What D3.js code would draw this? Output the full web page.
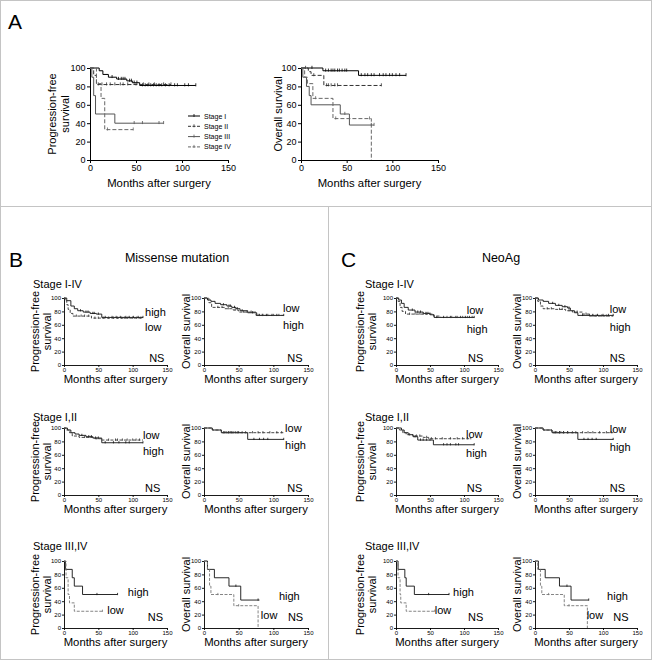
<!DOCTYPE html>
<html><head><meta charset="utf-8">
<script src="https://cdn.jsdelivr.net/npm/d3@7"></script>
<style>body{margin:0;background:#fff} text{font-family:"Liberation Sans",Arial,sans-serif;fill:#000}</style>
</head><body><svg id="c" width="652" height="660"></svg>
<script>
// ---------- tick labels ----------
const monthTicks = [0, 50, 100, 150];
const pctTicks = [0, 20, 40, 60, 80, 100];
const stageNames = ["Stage I", "Stage II", "Stage III", "Stage IV"];
const rowNames = ["Stage I-IV", "Stage I,II", "Stage III,IV"];
const groupNames = ["high", "low"];

// ---------- Panel A : PFS by stage [month, %] ----------
const A_pfs_I = [[0,100],[10,97],[14,93],[20,90],[29,88],[40,86],[46,84],[54,81],[115,81]];
const A_pfs_I_c = [24,31,34,36,38,43,45,48,51,57,60,63,66,69,72,75,78,82,86,92,95,103,107,115];
const A_pfs_II = [[0,100],[4,92],[7,82],[88,82]];
const A_pfs_II_c = [9,13,18,22,27,33,36,41,50,58,64,70,80,88];
const A_pfs_III = [[0,100],[2,90],[4,70],[6,50],[27,40],[80,40]];
const A_pfs_III_c = [48,57,75,80];
const A_pfs_IV = [[0,100],[7,83],[12,67],[16,33],[47,33]];
const A_pfs_IV_c = [19,47];
// ---------- Panel A : OS by stage ----------
const A_os_I = [[0,100],[24,97],[63,92],[115,92]];
const A_os_I_c = [12,27,30,33,35,37,40,42,45,48,50,66,70,73,77,80,86,90,93,97,100,104,108,115];
const A_os_II = [[0,100],[8,96],[11,92],[25,81],[88,81]];
const A_os_II_c = [5,14,28,30,33,37,40,88];
const A_os_III = [[0,100],[2,90],[6,80],[9,70],[11,60],[43,50],[53,38],[80,38]];
const A_os_III_c = [48,77,80];
const A_os_IV = [[0,100],[4,90],[7,83],[13,67],[35,45],[77,0]];
const A_os_IV_c = [16,38,75];

// ---------- Panel B : Missense mutation ----------
const B1_pfs_hi = [[0,100],[4,96],[10,88],[15,84],[20,81],[28,79],[38,77],[47,76],[55,71],[115,71]];
const B1_pfs_hi_c = [24,32,35,42,44,50,60,70,76,82,90,95,101,108,115];
const B1_pfs_lo = [[0,100],[2,96],[4,90],[6,83],[9,77],[13,73],[40,70],[115,70]];
const B1_pfs_lo_c = [18,25,30,36,45,50,57,65,72,78,84,88,93,100,106,112];
const B1_os_hi = [[0,100],[5,97],[10,95],[16,92],[24,90],[33,88],[40,86],[46,84],[52,81],[63,78],[76,74],[115,74]];
const B1_os_hi_c = [28,36,38,44,48,55,70,80,84,90,98,105,115];
const B1_os_lo = [[0,100],[7,93],[11,86],[30,84],[42,82],[50,79],[75,74],[115,74]];
const B1_os_lo_c = [20,26,35,45,57,62,68,78,85,92,100,108];

const B2_pfs_hi = [[0,100],[5,97],[10,93],[16,91],[22,89],[32,87],[42,85],[55,78],[115,78]];
const B2_pfs_hi_c = [26,36,40,46,50,60,72,80,90,95,115];
const B2_pfs_lo = [[0,100],[3,97],[8,93],[12,88],[22,86],[45,84],[55,82],[115,82]];
const B2_pfs_lo_c = [30,38,48,65,75,78,85,92,100,105,110];
const B2_os_hi = [[0,100],[12,97],[25,93],[63,83],[115,83]];
const B2_os_hi_c = [30,35,40,45,50,72,80,86,92,115];
const B2_os_lo = [[0,100],[12,97],[25,93],[115,93]];
const B2_os_lo_c = [28,32,36,38,42,48,55,60,70,78,85,95,105,112];

const B3_pfs_hi = [[0,100],[2,87.5],[12,75],[15,62.5],[27,50],[78,50]];
const B3_pfs_hi_c = [48,78];
const B3_pfs_lo = [[0,100],[3,75],[6,50],[8,37.5],[15,25],[56,25]];
const B3_pfs_lo_c = [56];
const B3_os_hi = [[0,100],[5,87.5],[15,75],[36,62.5],[53,41.7],[80,41.7]];
const B3_os_hi_c = [46,78];
const B3_os_lo = [[0,100],[5,87.5],[8,62.5],[10,50],[43,33.3],[78,0]];
const B3_os_lo_c = [20,50];

// ---------- Panel C : NeoAg ----------
const C1_pfs_hi = [[0,100],[4,97],[8,92],[12,86],[18,82],[28,79],[40,77],[50,75],[56,71],[115,71]];
const C1_pfs_hi_c = [24,32,36,44,47,60,70,80,88,95,102,108,115];
const C1_pfs_lo = [[0,100],[3,95],[6,86],[9,80],[14,76],[55,73],[65,71],[115,71]];
const C1_pfs_lo_c = [20,28,35,40,45,50,75,82,90,98,105,112];
const C1_os_hi = [[0,100],[5,97],[12,95],[20,92],[30,89],[40,87],[48,85],[52,81],[58,78],[63,74],[115,74]];
const C1_os_hi_c = [26,35,44,50,70,80,85,92,100,108,115];
const C1_os_lo = [[0,100],[4,95],[8,88],[12,84],[30,83],[45,81],[55,79],[70,76],[80,73],[115,73]];
const C1_os_lo_c = [18,24,36,40,50,62,75,85,90,98,105];

const C2_pfs_hi = [[0,100],[8,97],[12,93],[18,90],[25,87],[32,82],[55,75],[115,75]];
const C2_pfs_hi_c = [28,36,40,45,50,70,75,80,88,92,115];
const C2_pfs_lo = [[0,100],[5,97],[10,93],[15,90],[25,88],[40,86],[48,84],[110,84]];
const C2_pfs_lo_c = [20,30,35,45,52,58,68,80,90,98,105,110];
const C2_os_hi = [[0,100],[12,97],[25,93],[63,83],[115,83]];
const C2_os_hi_c = [30,36,42,48,72,78,84,90,115];
const C2_os_lo = [[0,100],[12,97],[25,93],[115,93]];
const C2_os_lo_c = [28,32,36,38,42,48,55,60,70,78,85,95,105,112];

const C3_pfs_hi = [[0,100],[3,87.5],[13,75],[15,62.5],[27,50],[78,50]];
const C3_pfs_hi_c = [48,78];
const C3_pfs_lo = [[0,100],[3,75],[6,50],[7,37.5],[15,25],[57,25]];
const C3_pfs_lo_c = [57];
const C3_os_hi = [[0,100],[5,87.5],[15,75],[36,62.5],[53,41.7],[79,41.7]];
const C3_os_hi_c = [47,79];
const C3_os_lo = [[0,100],[4,87.5],[8,62.5],[10,50],[43,33.3],[77,0]];
const C3_os_lo_c = [20,50];

// ---------- drawing ----------
const svg = d3.select("#c");
const W = 652, H = 660;
const FONT = '"Liberation Sans",Arial,sans-serif';
const frame = "#c4c4c4";
svg.append("rect").attr("x",0.5).attr("y",0.5).attr("width",W-1).attr("height",H-1).attr("fill","none").attr("stroke",frame);
svg.append("line").attr("x1",0).attr("x2",W).attr("y1",206.5).attr("y2",206.5).attr("stroke",frame);
svg.append("line").attr("x1",328.5).attr("x2",328.5).attr("y1",206).attr("y2",H).attr("stroke",frame);

function survAt(pts, t){ let s = pts[0][1]; for (const p of pts) if (p[0] <= t) s = p[1]; return s; }

function plot(cfg){
  const g = svg.append("g");
  const x = d3.scaleLinear().domain([0,150]).range([cfg.x0, cfg.x1]);
  const y = d3.scaleLinear().domain([0,100]).range([cfg.yb, cfg.yt]);
  const ts = cfg.ts, tf = cfg.tf;
  const ax = g.append("g").attr("transform",`translate(0,${cfg.yb})`)
    .call(d3.axisBottom(x).tickValues(monthTicks).tickSize(ts).tickSizeOuter(0).tickPadding(cfg.tp));
  const ay = g.append("g").attr("transform",`translate(${cfg.x0},0)`)
    .call(d3.axisLeft(y).tickValues(pctTicks).tickSize(ts).tickSizeOuter(0).tickPadding(cfg.tp));
  [ax, ay].forEach(a => { a.selectAll("text").attr("font-size", tf).attr("font-family", FONT).attr("fill","#222");
    a.selectAll("path,line").attr("stroke","#000").attr("stroke-width", cfg.aw); });
  const line = d3.line().x(d => x(d[0])).y(d => y(d[1])).curve(d3.curveStepAfter);
  cfg.curves.forEach(c => {
    g.append("path").attr("d", line(c.pts)).attr("fill","none").attr("stroke", c.color)
      .attr("stroke-width", c.w).attr("stroke-dasharray", c.dash || null);
    g.selectAll(null).data(c.cens).enter().append("line")
      .attr("x1", d => x(d)).attr("x2", d => x(d))
      .attr("y1", d => y(survAt(c.pts, d)) - cfg.ch).attr("y2", d => y(survAt(c.pts, d)) + cfg.ch * 0.4)
      .attr("stroke", c.color).attr("stroke-width", 0.8);
  });
  (cfg.labels || []).forEach(l => {
    g.append("text").attr("x", x(l[1])).attr("y", y(l[2])).attr("dominant-baseline","central")
      .attr("font-size", cfg.lf).text(l[0]);
  });
  const ym = (cfg.yt + cfg.yb) / 2;
  cfg.ytitle.forEach(t => {
    g.append("text").attr("transform",`translate(${t[1]},${ym}) rotate(-90)`).attr("text-anchor","middle")
      .attr("dominant-baseline","central").attr("font-size", cfg.yf).text(t[0]);
  });
  g.append("text").attr("x", (cfg.x0 + cfg.x1) / 2).attr("y", cfg.yb + cfg.xtOff).attr("text-anchor","middle")
    .attr("dominant-baseline","central").attr("font-size", cfg.xf).text("Months after surgery");
  return {x, y};
}

// ----- Panel A -----
svg.append("text").attr("x",8).attr("y",29).attr("font-size",21).text("A");
const stageStyle = [
  {color:"#000", dash:null}, {color:"#333", dash:"4,2"}, {color:"#555", dash:null}, {color:"#666", dash:"4,2"}];
const aBase = {yt:68, yb:160, ts:3, tf:9, tp:1.5, aw:1, ch:2.2, xf:11.3, yf:11, lf:11, xtOff:23};
plot(Object.assign({}, aBase, {x0:90, x1:228,
  ytitle:[["Progression-free",52],["survival",65]],
  curves:[[A_pfs_I,A_pfs_I_c],[A_pfs_II,A_pfs_II_c],[A_pfs_III,A_pfs_III_c],[A_pfs_IV,A_pfs_IV_c]]
    .map((d,i) => ({pts:d[0], cens:d[1], color:stageStyle[i].color, dash:stageStyle[i].dash, w:1}))}));
plot(Object.assign({}, aBase, {x0:301, x1:438,
  ytitle:[["Overall survival",278]],
  curves:[[A_os_I,A_os_I_c],[A_os_II,A_os_II_c],[A_os_III,A_os_III_c],[A_os_IV,A_os_IV_c]]
    .map((d,i) => ({pts:d[0], cens:d[1], color:stageStyle[i].color, dash:stageStyle[i].dash, w:1}))}));
// legend
stageNames.forEach((n,i) => {
  const ly = 116 + i * 10.3;
  svg.append("line").attr("x1",188).attr("x2",200).attr("y1",ly).attr("y2",ly)
    .attr("stroke",stageStyle[i].color).attr("stroke-dasharray", stageStyle[i].dash ? "3,1.5" : null);
  svg.append("line").attr("x1",194).attr("x2",194).attr("y1",ly-2).attr("y2",ly+1).attr("stroke",stageStyle[i].color).attr("stroke-width",0.8);
  svg.append("text").attr("x",204).attr("y",ly).attr("dominant-baseline","central").attr("font-size",7).attr("fill","#222").text(n);
});

// ----- Panels B and C -----
svg.append("text").attr("x",9).attr("y",267).attr("font-size",21).text("B");
svg.append("text").attr("x",341).attr("y",267).attr("font-size",21).text("C");
svg.append("text").attr("x",177).attr("y",262).attr("text-anchor","middle").attr("font-size",12.5).text("Missense mutation");
svg.append("text").attr("x",501).attr("y",262).attr("text-anchor","middle").attr("font-size",12.5).text("NeoAg");

const rowTop = [298, 428, 561];
const rowH = 67;
const rowLabelY = [284, 417, 546];
const cols = [
  {x0:64, x1:167, kind:"pfs", tt:[["Progression-free",35],["survival",47]], lx:33},
  {x0:204, x1:308, kind:"os", tt:[["Overall survival",186]]},
  {x0:396, x1:498, kind:"pfs", tt:[["Progression-free",360],["survival",372]], lx:365},
  {x0:535, x1:637, kind:"os", tt:[["Overall survival",517]]}
];
const curvesBC = [
  [[B1_pfs_hi,B1_pfs_hi_c,B1_pfs_lo,B1_pfs_lo_c],[B1_os_hi,B1_os_hi_c,B1_os_lo,B1_os_lo_c],[C1_pfs_hi,C1_pfs_hi_c,C1_pfs_lo,C1_pfs_lo_c],[C1_os_hi,C1_os_hi_c,C1_os_lo,C1_os_lo_c]],
  [[B2_pfs_hi,B2_pfs_hi_c,B2_pfs_lo,B2_pfs_lo_c],[B2_os_hi,B2_os_hi_c,B2_os_lo,B2_os_lo_c],[C2_pfs_hi,C2_pfs_hi_c,C2_pfs_lo,C2_pfs_lo_c],[C2_os_hi,C2_os_hi_c,C2_os_lo,C2_os_lo_c]],
  [[B3_pfs_hi,B3_pfs_hi_c,B3_pfs_lo,B3_pfs_lo_c],[B3_os_hi,B3_os_hi_c,B3_os_lo,B3_os_lo_c],[C3_pfs_hi,C3_pfs_hi_c,C3_pfs_lo,C3_pfs_lo_c],[C3_os_hi,C3_os_hi_c,C3_os_lo,C3_os_lo_c]]
];
// label anchors [text, month, %]
const labelsBC = [
  [[["high",118,79],["low",118,57],["NS",124,10]], [["low",114,85],["high",114,60],["NS",120,10]],
   [["low",104,82],["high",104,53],["NS",106,10]], [["low",110,84],["high",110,57],["NS",110,10]]],
  [[["low",115,90],["high",115,65],["NS",118,10]], [["low",117,100],["high",117,74],["NS",120,10]],
   [["low",103,91],["high",103,63],["NS",104,10]], [["low",110,99],["high",110,71],["NS",110,10]]],
  [[["high",93,54],["low",63,27],["NS",122,16]], [["high",108,48],["low",82,19],["NS",121,16]],
   [["high",84,54],["low",57,27],["NS",106,16]], [["high",106,48],["low",76,19],["NS",115,16]]]
];
rowTop.forEach((yt, r) => {
  [0, 2].forEach(ci => svg.append("text").attr("x", cols[ci].lx).attr("y", rowLabelY[r])
    .attr("dominant-baseline","central").attr("font-size",11).text(rowNames[r]));
  cols.forEach((c, ci) => {
    const d = curvesBC[r][ci];
    const loColor = r === 2 ? "#777" : "#333";
    plot({x0:c.x0, x1:c.x1, yt:yt, yb:yt + rowH, ts:2, tf:6, tp:1, aw:0.9, ch:1.6,
      xf:11.3, yf:11, lf:11, xtOff:14, ytitle:c.tt, labels:labelsBC[r][ci],
      curves:[{pts:d[0], cens:d[1], color:"#111", dash:null, w:0.9},
              {pts:d[2], cens:d[3], color:loColor, dash:"3,1.5", w:0.9}]});
  });
});
</script></body></html>
